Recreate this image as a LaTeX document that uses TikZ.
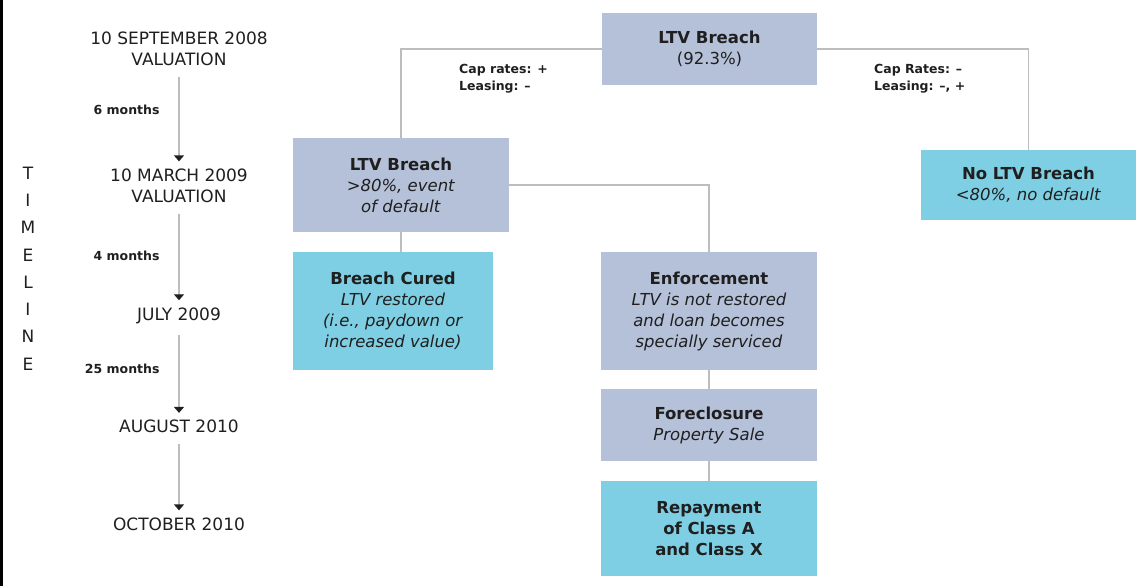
\documentclass[tikz,border=0pt]{standalone}
\usepackage{fontspec}
\setmainfont{DejaVu Sans}
\usetikzlibrary{arrows.meta,positioning}

\definecolor{breachblue}{HTML}{B5C1D9}
\definecolor{curedcyan}{HTML}{7ECFE3}
\definecolor{linkgrey}{HTML}{BDBDBD}
\definecolor{inkdark}{HTML}{1F1F1F}

\begin{document}
\begin{tikzpicture}[
    x=1pt, y=-1pt,
    box/.style={minimum width=215pt, minimum height=72pt, align=center, inner sep=0pt,
        text=inkdark, font=\fontsize{16.5}{21}\selectfont},
    greybox/.style={box, fill=breachblue},
    cyanbox/.style={box, fill=curedcyan},
    link/.style={draw=linkgrey, line width=1.3pt},
    arrow/.style={link, shorten <=11pt, shorten >=7pt, -{Triangle[width=10pt,length=6pt,color=inkdark]}},
    date/.style={align=center, inner sep=0pt, text=inkdark, font=\fontsize{17}{21}\selectfont},
    gap/.style={anchor=east, text=inkdark, font=\bfseries\fontsize{12.5}{17}\selectfont},
    factor/.style={anchor=west, align=left, inner sep=0pt, text=inkdark, font=\bfseries\fontsize{12.5}{17}\selectfont},
]
    \useasboundingbox (0,0) rectangle (1144,586);
    \fill[white] (0,0) rectangle (1144,586);
    \fill[black] (0,0) rectangle (3,586);

    % timeline
    \node[align=center, inner sep=0pt, text=inkdark, font=\fontsize{17}{27.3}\selectfont] (timeline) at (28,268.5)
        {T\\I\\M\\E\\L\\I\\N\\E};
    \node[date] (sep) at (179,48.5) {10 SEPTEMBER 2008\\VALUATION};
    \node[date] (mar) at (179,185.5) {10 MARCH 2009\\VALUATION};
    \node[date] (jul) at (179,315.5) {JULY 2009};
    \node[date] (aug) at (179,426.5) {AUGUST 2010};
    \node[date] (oct) at (179,524) {OCTOBER 2010};

    \draw[arrow] (sep) -- (mar);
    \draw[arrow] (mar) -- (jul);
    \draw[arrow] (jul) -- (aug);
    \draw[arrow] (aug) -- (oct);

    \node[gap] (six) at (163,110) {6 months};
    \node[gap] (four) at (163,256) {4 months};
    \node[gap] (twentyfive) at (163,369) {25 months};

    % outcome tree
    \node[greybox] (top) at (709.5,49) {\textbf{LTV Breach}\\(92.3\%)};
    \node[greybox, minimum width=216pt, minimum height=94pt] (breach) at (401,185)
        {\textbf{LTV Breach}\\\textit{>80\%, event}\\\textit{of default}};
    \node[cyanbox, minimum height=70pt] (nobreach) at (1028.5,185)
        {\textbf{No LTV Breach}\\\textit{<80\%, no default}};
    \node[cyanbox, minimum width=200pt, minimum height=118pt] (cured) at (393,311)
        {\textbf{Breach Cured}\\\textit{LTV restored}\\\textit{(i.e., paydown or}\\\textit{increased value)}};
    \node[greybox, minimum width=216pt, minimum height=118pt] (enforce) at (709,311)
        {\textbf{Enforcement}\\\textit{LTV is not restored}\\\textit{and loan becomes}\\\textit{specially serviced}};
    \node[greybox, minimum width=216pt] (foreclose) at (709,425)
        {\textbf{Foreclosure}\\\textit{Property Sale}};
    \node[cyanbox, minimum width=216pt, minimum height=95pt] (repay) at (709,528.5)
        {\textbf{Repayment}\\\textbf{of Class A}\\\textbf{and Class X}};

    \draw[link] (top.west) -| (breach.north);
    \draw[link] (top.east) -| (nobreach.north);
    \draw[link] (breach.east) -| (enforce.north);
    \draw[link] (breach.south) -- (breach.south |- cured.north);
    \draw[link] (enforce) -- (foreclose);
    \draw[link] (foreclose) -- (repay);

    \node[factor] (capup) at (459,78.5) {Cap rates: +\\Leasing: \textendash};
    \node[factor] (capdown) at (874,78.5) {Cap Rates: \textendash\\Leasing: \textendash, +};
\end{tikzpicture}
\end{document}
